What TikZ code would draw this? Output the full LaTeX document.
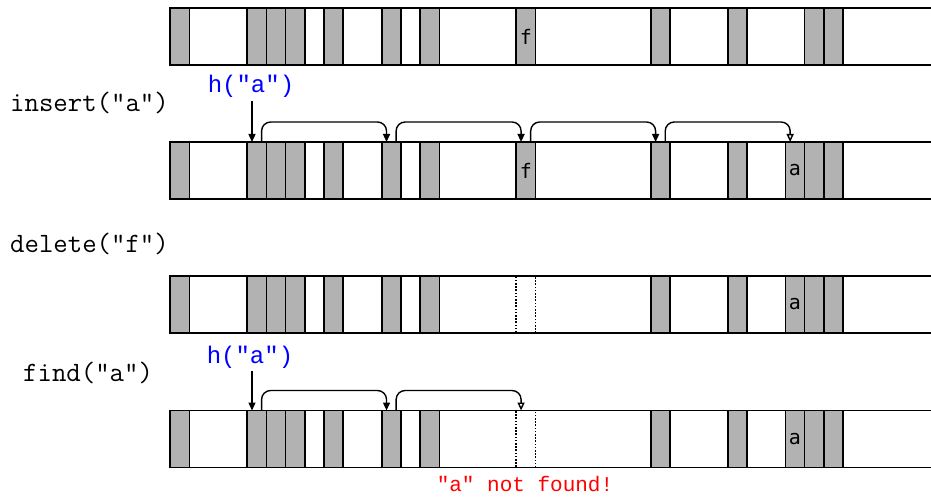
\documentclass[tikz,border=0pt]{standalone}
\usepackage{fontspec}
\newfontfamily\cellfont{DejaVu Sans Mono}
\newfontfamily\libmono{Liberation Mono}
\usetikzlibrary{arrows.meta,calc}
\tikzset{
  rowline/.style={line width=1.7pt},
  cell/.style={draw, line width=1.7pt, fill=black!30, minimum width=19.22pt, minimum height=57pt, inner sep=0pt, outer sep=0pt, font=\cellfont\fontsize{20}{22}\selectfont},
  emptycell/.style={draw, line width=1.6pt, dash pattern=on 1.6pt off 1.6pt, minimum width=19.22pt, minimum height=57pt, inner sep=0pt, outer sep=0pt},
  arr/.style={line width=1.4pt, -{Triangle[length=8pt,width=7pt]}},
  arropen/.style={line width=1.4pt, -{Triangle[open,length=8pt,width=7pt,fill=white]}},
  jump/.style={rounded corners=9pt},
  oplabel/.style={anchor=base west, inner sep=0pt, font=\ttfamily\fontsize{28}{30}\selectfont},
  hashlabel/.style={anchor=base, inner sep=3pt, text=blue, font=\libmono\fontsize{24}{26}\selectfont},
  msg/.style={anchor=base, inner sep=0pt, text=red, font=\libmono\fontsize{21}{23}\selectfont}
}
\begin{document}
\begin{tikzpicture}[x=1pt,y=-1pt]
\useasboundingbox (0,0) rectangle (931,497);
\def\xo{170.3}
\def\cw{19.22}
% table outlines
\foreach \r/\t in {1/8,2/142,3/276,4/410.5}{
  \coordinate (tl\r) at (\xo,\t);
  \coordinate (bl\r) at (\xo,\t+57);
  \coordinate (tr\r) at (931,\t);
  \coordinate (br\r) at (931,\t+57);
  \draw[rowline] (tr\r) -- (tl\r) -- (bl\r) -- (br\r);
}
% row 1
\foreach \i in {0,4,5,6,8,11,13,25,29,33,34}
  \node[cell] (r1c\i) at ({\xo+(\i+0.5)*\cw},36.5) {};
\node[cell] (r1c18) at ({\xo+18.5*\cw},36.5) {f};
% row 2
\foreach \i in {0,4,5,6,8,11,13,25,29,33,34}
  \node[cell] (r2c\i) at ({\xo+(\i+0.5)*\cw},170.5) {};
\node[cell] (r2c18) at ({\xo+18.5*\cw},170.5) {f};
\node[cell] (r2c32) at ({\xo+32.5*\cw},170.5) {a};
% row 3
\foreach \i in {0,4,5,6,8,11,13,25,29,33,34}
  \node[cell] (r3c\i) at ({\xo+(\i+0.5)*\cw},304.5) {};
\node[emptycell] (r3c18) at ({\xo+18.5*\cw},304.5) {};
\node[cell] (r3c32) at ({\xo+32.5*\cw},304.5) {a};
% row 4
\foreach \i in {0,4,5,6,8,11,13,25,29,33,34}
  \node[cell] (r4c\i) at ({\xo+(\i+0.5)*\cw},439) {};
\node[emptycell] (r4c18) at ({\xo+18.5*\cw},439) {};
\node[cell] (r4c32) at ({\xo+32.5*\cw},439) {a};
% labels
\node[oplabel] (ins) at (10,112) {insert("a")};
\node[oplabel] (del) at (10,252) {delete("f")};
\node[oplabel] (fnd) at (23,381.5) {find("a")};
\node[hashlabel] (h2) at (251,92.7) {h("a")};
\node[hashlabel] (h4) at (250,363) {h("a")};
\node[msg] (nf) at (525,491.5) {"a" not found!};
% insert probes
\coordinate (p2a) at ($(r2c4.north west)!0.25!(r2c4.north east)$);
\draw[arr] (h2.south -| p2a) -- (p2a);
\draw[arr,jump] ($(r2c4.north west)!0.75!(r2c4.north east)$) -- ++(0,-20) -| ($(r2c11.north west)!0.25!(r2c11.north east)$);
\draw[arr,jump] ($(r2c11.north west)!0.75!(r2c11.north east)$) -- ++(0,-20) -| ($(r2c18.north west)!0.25!(r2c18.north east)$);
\draw[arr,jump] ($(r2c18.north west)!0.75!(r2c18.north east)$) -- ++(0,-20) -| ($(r2c25.north west)!0.25!(r2c25.north east)$);
\draw[arropen,jump] ($(r2c25.north west)!0.75!(r2c25.north east)$) -- ++(0,-20) -| ($(r2c32.north west)!0.25!(r2c32.north east)$);
% find probes
\coordinate (p4a) at ($(r4c4.north west)!0.25!(r4c4.north east)$);
\draw[arr] (h4.south -| p4a) -- (p4a);
\draw[arr,jump] ($(r4c4.north west)!0.75!(r4c4.north east)$) -- ++(0,-20) -| ($(r4c11.north west)!0.25!(r4c11.north east)$);
\draw[arropen,jump] ($(r4c11.north west)!0.75!(r4c11.north east)$) -- ++(0,-20) -| ($(r4c18.north west)!0.25!(r4c18.north east)$);
\end{tikzpicture}
\end{document}
